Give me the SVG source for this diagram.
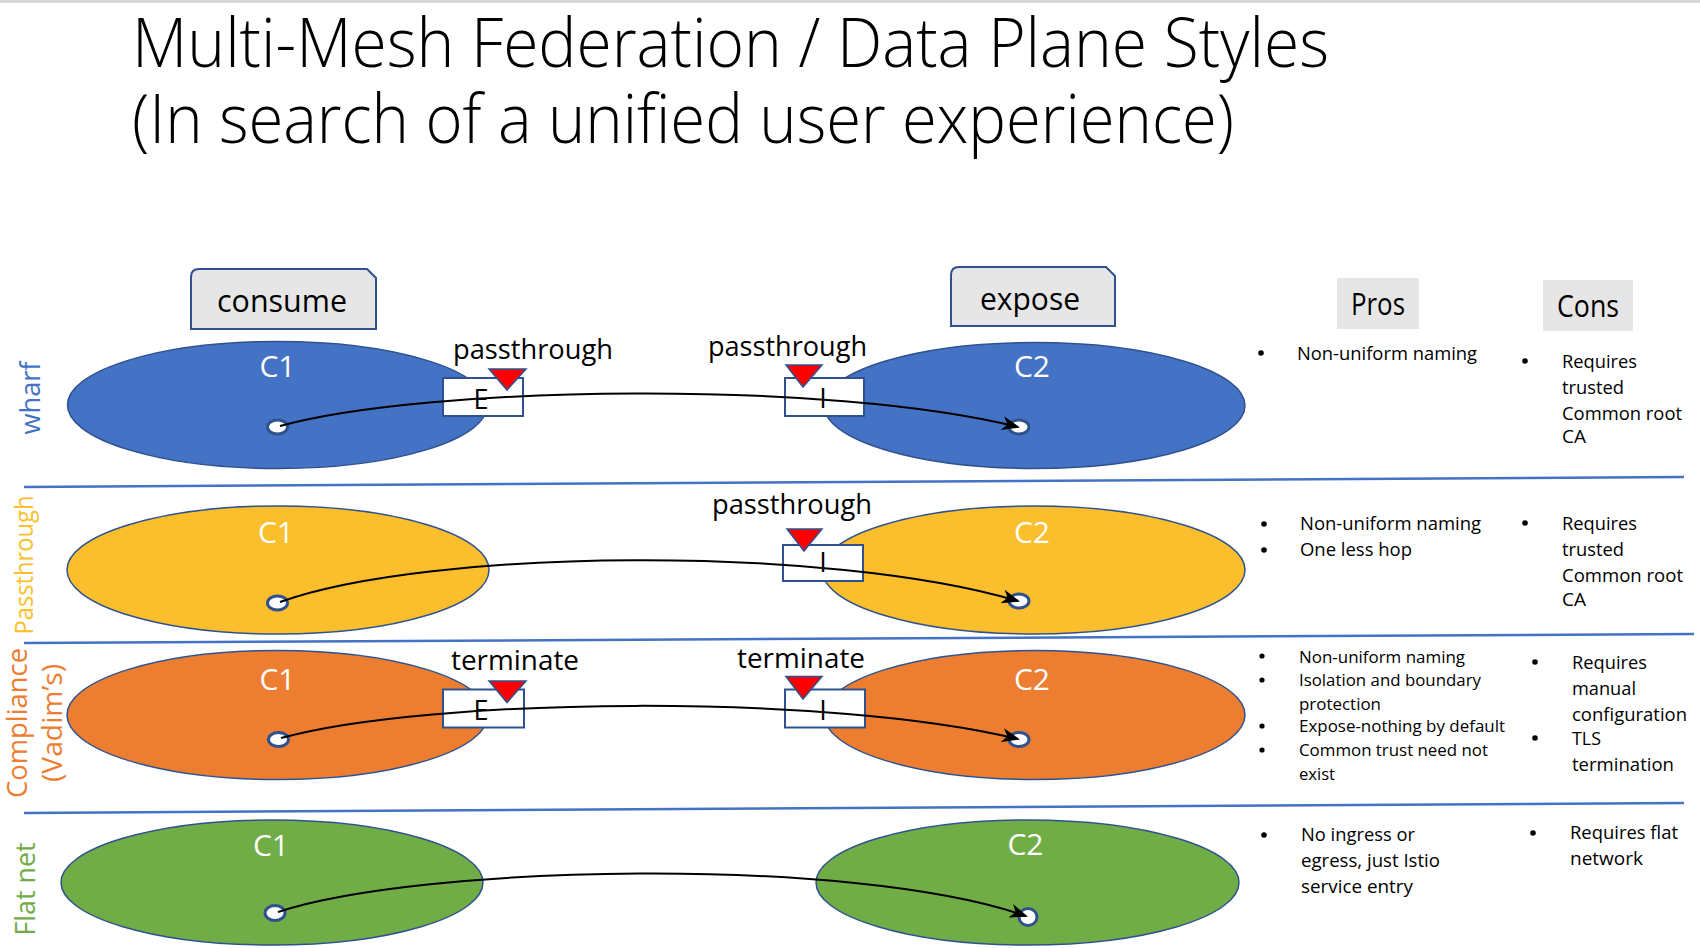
<svg xmlns="http://www.w3.org/2000/svg" width="1700" height="948" viewBox="0 0 1700 948">
<style>
text{font-family:"Open Sans","Liberation Sans",sans-serif;fill:#000}
.title{font-size:68px;font-weight:300}
.hdr{font-size:31px}
.lbl{font-size:28px}
.c{font-size:30px;fill:#fff;text-anchor:middle}
.gw{font-size:27px;text-anchor:middle}
.b1{font-size:18.5px}
.b3{font-size:17px}
.b4{font-size:18px}
.row{font-size:28px;text-anchor:middle}
.sep{stroke:#4472C4;stroke-width:2.5;fill:none}
.box{fill:#E7E6E6;stroke:#2F528F;stroke-width:2}
.gate{fill:#fff;stroke:#2F528F;stroke-width:2}
.tri{fill:#FF0000;stroke:#2F528F;stroke-width:1.5}
.cl{stroke:#2F528F;stroke-width:1.5}
.nd{fill:#fff;stroke:#2F528F;stroke-width:3}
.con{fill:none;stroke:#000;stroke-width:2;marker-end:url(#arr)}
.bul{fill:#000}
</style>
<defs>
<marker id="arr" viewBox="0 0 18 14" refX="16" refY="7" markerWidth="18" markerHeight="14" markerUnits="userSpaceOnUse" orient="auto">
<path d="M2,1.5 L16,7 L2,12.5 L6,7 Z" fill="#000" stroke="#000" stroke-width="1.5" stroke-linejoin="miter"/>
</marker>
</defs>
<rect x="0" y="0" width="1700" height="3" fill="#D9D9D9"/>
<g id="title">
<text class="title" x="132" y="67" textLength="1197" lengthAdjust="spacingAndGlyphs">Multi-Mesh Federation / Data Plane Styles</text>
<text class="title" x="132" y="143" textLength="1102" lengthAdjust="spacingAndGlyphs">(In search of a unified user experience)</text>
</g>
<g id="separators">
<line class="sep" x1="24" y1="487" x2="1684" y2="477"/>
<line class="sep" x1="24" y1="643" x2="1694" y2="634"/>
<line class="sep" x1="24" y1="813" x2="1684" y2="803"/>
</g>
<g id="consume">
<path class="box" d="M191,329 L191,277 Q191,269 199,269 L367,269 L376,278 L376,329 Z"/>
<text class="hdr" x="282" y="312" text-anchor="middle" textLength="130" lengthAdjust="spacingAndGlyphs">consume</text>
</g>
<g id="expose">
<path class="box" d="M951,326 L951,275 Q951,267 959,267 L1106,267 L1115,276 L1115,326 Z"/>
<text class="hdr" x="1030" y="310" text-anchor="middle" textLength="100" lengthAdjust="spacingAndGlyphs">expose</text>
</g>
<g id="pros-header">
<rect x="1337" y="278" width="82" height="51" fill="#E7E6E6"/>
<text class="hdr" x="1378" y="315" text-anchor="middle" textLength="54" lengthAdjust="spacingAndGlyphs">Pros</text>
</g>
<g id="cons-header">
<rect x="1543" y="280" width="90" height="51" fill="#E7E6E6"/>
<text class="hdr" x="1588" y="317" text-anchor="middle" textLength="62" lengthAdjust="spacingAndGlyphs">Cons</text>
</g>
<g id="row-labels">
<text class="row" style="fill:#4472C4" transform="translate(40,398) rotate(-90)" textLength="73" lengthAdjust="spacingAndGlyphs">wharf</text>
<text class="row" style="fill:#FBBF2D;font-size:26px" transform="translate(33,565) rotate(-90)" textLength="139" lengthAdjust="spacingAndGlyphs">Passthrough</text>
<text class="row" style="fill:#ED7D31" transform="translate(27,723) rotate(-90)" textLength="150" lengthAdjust="spacingAndGlyphs">Compliance</text>
<text class="row" style="fill:#ED7D31" transform="translate(62,723) rotate(-90)" textLength="118" lengthAdjust="spacingAndGlyphs">(Vadim’s)</text>
<text class="row" style="fill:#70AD47" transform="translate(35,889) rotate(-90)" textLength="93" lengthAdjust="spacingAndGlyphs">Flat net</text>
</g>
<!-- Row 1 wharf -->
<g id="wharf-c1">
<ellipse class="cl" cx="277.5" cy="405" rx="210" ry="63.5" fill="#4472C4"/>
<text class="c" x="277.5" y="377">C1</text>
<ellipse class="nd" cx="277.5" cy="427" rx="10" ry="7"/>
</g>
<g id="wharf-c2">
<ellipse class="cl" cx="1034.5" cy="405.5" rx="210.5" ry="63" fill="#4472C4"/>
<text class="c" x="1032" y="377">C2</text>
<ellipse class="nd" cx="1019" cy="427" rx="10" ry="7"/>
</g>
<g id="wharf-egress">
<rect class="gate" x="443" y="378" width="80" height="38"/>
<text class="gw" x="481" y="409">E</text>
<polygon class="tri" points="489,369 526,369 507,390"/>
<text class="lbl" x="453" y="359" textLength="160" lengthAdjust="spacingAndGlyphs">passthrough</text>
</g>
<g id="wharf-ingress">
<rect class="gate" x="785" y="378" width="79" height="38"/>
<text class="gw" x="823" y="408">I</text>
<polygon class="tri" points="786,365 822,365 803,387"/>
<text class="lbl" x="708" y="356" textLength="159" lengthAdjust="spacingAndGlyphs">passthrough</text>
</g>
<g id="wharf-text">
<circle class="bul" cx="1261" cy="353" r="2.8"/>
<text class="b1" x="1297" y="360" textLength="180" lengthAdjust="spacingAndGlyphs">Non-uniform naming</text>
<circle class="bul" cx="1525" cy="361" r="2.8"/>
<text class="b1" x="1562" y="367.5" textLength="75" lengthAdjust="spacingAndGlyphs">Requires</text>
<text class="b1" x="1562" y="393.5" textLength="62" lengthAdjust="spacingAndGlyphs">trusted</text>
<text class="b1" x="1562" y="419.5" textLength="120" lengthAdjust="spacingAndGlyphs">Common root</text>
<text class="b1" x="1562" y="443" textLength="24" lengthAdjust="spacingAndGlyphs">CA</text>
</g>
<!-- Row 2 passthrough -->
<g id="pass-c1">
<ellipse class="cl" cx="278" cy="570" rx="211" ry="64" fill="#FBBF2D"/>
<text class="c" x="276" y="543">C1</text>
<ellipse class="nd" cx="277.5" cy="603" rx="10" ry="7"/>
</g>
<g id="pass-c2">
<ellipse class="cl" cx="1033.5" cy="570" rx="211.5" ry="64" fill="#FBBF2D"/>
<text class="c" x="1032" y="543">C2</text>
<ellipse class="nd" cx="1019" cy="601" rx="10" ry="7"/>
</g>
<g id="pass-ingress">
<rect class="gate" x="783" y="545" width="80" height="36"/>
<text class="gw" x="823" y="572">I</text>
<polygon class="tri" points="787,529 822,529 804,551"/>
<text class="lbl" x="712" y="514" textLength="160" lengthAdjust="spacingAndGlyphs">passthrough</text>
</g>
<g id="pass-text">
<circle class="bul" cx="1264" cy="524" r="2.8"/>
<text class="b1" x="1300" y="530" textLength="181" lengthAdjust="spacingAndGlyphs">Non-uniform naming</text>
<circle class="bul" cx="1264" cy="550" r="2.8"/>
<text class="b1" x="1300" y="556" textLength="112" lengthAdjust="spacingAndGlyphs">One less hop</text>
<circle class="bul" cx="1525" cy="523" r="2.8"/>
<text class="b1" x="1562" y="530" textLength="75" lengthAdjust="spacingAndGlyphs">Requires</text>
<text class="b1" x="1562" y="556" textLength="62" lengthAdjust="spacingAndGlyphs">trusted</text>
<text class="b1" x="1562" y="582" textLength="121" lengthAdjust="spacingAndGlyphs">Common root</text>
<text class="b1" x="1562" y="606" textLength="24" lengthAdjust="spacingAndGlyphs">CA</text>
</g>
<!-- Row 3 compliance -->
<g id="comp-c1">
<ellipse class="cl" cx="277.5" cy="715" rx="210.5" ry="64.5" fill="#ED7D31"/>
<text class="c" x="277.5" y="690">C1</text>
<ellipse class="nd" cx="278.5" cy="739.5" rx="10" ry="7"/>
</g>
<g id="comp-c2">
<ellipse class="cl" cx="1034.5" cy="715" rx="210.5" ry="64.5" fill="#ED7D31"/>
<text class="c" x="1032" y="690">C2</text>
<ellipse class="nd" cx="1019" cy="739.5" rx="10" ry="7"/>
</g>
<g id="comp-egress">
<rect class="gate" x="443" y="689.5" width="81" height="38"/>
<text class="gw" x="481" y="720">E</text>
<polygon class="tri" points="489,681 526,681 507,702.5"/>
<text class="lbl" x="451" y="670" textLength="128" lengthAdjust="spacingAndGlyphs">terminate</text>
</g>
<g id="comp-ingress">
<rect class="gate" x="785" y="689.5" width="80" height="38"/>
<text class="gw" x="823" y="720">I</text>
<polygon class="tri" points="786,676.5 822,676.5 803,699"/>
<text class="lbl" x="737" y="668" textLength="128" lengthAdjust="spacingAndGlyphs">terminate</text>
</g>
<g id="comp-text">
<circle class="bul" cx="1262" cy="656" r="2.6"/>
<text class="b3" x="1299" y="662.5" textLength="166" lengthAdjust="spacingAndGlyphs">Non-uniform naming</text>
<circle class="bul" cx="1262" cy="680" r="2.6"/>
<text class="b3" x="1299" y="686" textLength="182" lengthAdjust="spacingAndGlyphs">Isolation and boundary</text>
<text class="b3" x="1299" y="710" textLength="82" lengthAdjust="spacingAndGlyphs">protection</text>
<circle class="bul" cx="1262" cy="726" r="2.6"/>
<text class="b3" x="1299" y="732" textLength="206" lengthAdjust="spacingAndGlyphs">Expose-nothing by default</text>
<circle class="bul" cx="1262" cy="750" r="2.6"/>
<text class="b3" x="1299" y="756" textLength="189" lengthAdjust="spacingAndGlyphs">Common trust need not</text>
<text class="b3" x="1299" y="779.5" textLength="36" lengthAdjust="spacingAndGlyphs">exist</text>
<circle class="bul" cx="1535" cy="662" r="2.8"/>
<text class="b1" x="1572" y="669" textLength="75" lengthAdjust="spacingAndGlyphs">Requires</text>
<text class="b1" x="1572" y="695" textLength="64" lengthAdjust="spacingAndGlyphs">manual</text>
<text class="b1" x="1572" y="721" textLength="115" lengthAdjust="spacingAndGlyphs">configuration</text>
<circle class="bul" cx="1535" cy="738" r="2.8"/>
<text class="b1" x="1572" y="745" textLength="29" lengthAdjust="spacingAndGlyphs">TLS</text>
<text class="b1" x="1572" y="771" textLength="102" lengthAdjust="spacingAndGlyphs">termination</text>
</g>
<!-- Row 4 flat net -->
<g id="flat-c1">
<ellipse class="cl" cx="272" cy="882.5" rx="211" ry="62.5" fill="#70AD47"/>
<text class="c" x="271" y="855.5">C1</text>
<ellipse class="nd" cx="275" cy="913" rx="10" ry="7.5"/>
</g>
<g id="flat-c2">
<ellipse class="cl" cx="1027.5" cy="882.5" rx="211.5" ry="62.5" fill="#70AD47"/>
<text class="c" x="1025.5" y="855">C2</text>
<ellipse class="nd" cx="1028" cy="917" rx="9" ry="8.5"/>
</g>
<g id="flat-text">
<circle class="bul" cx="1264" cy="835" r="2.8"/>
<text class="b4" x="1301" y="841" textLength="114" lengthAdjust="spacingAndGlyphs">No ingress or</text>
<text class="b4" x="1301" y="867" textLength="139" lengthAdjust="spacingAndGlyphs">egress, just Istio</text>
<text class="b4" x="1301" y="893" textLength="112" lengthAdjust="spacingAndGlyphs">service entry</text>
<circle class="bul" cx="1533" cy="833" r="2.8"/>
<text class="b4" x="1570" y="839" textLength="108" lengthAdjust="spacingAndGlyphs">Requires flat</text>
<text class="b4" x="1570" y="865" textLength="73" lengthAdjust="spacingAndGlyphs">network</text>
</g>
<g id="connectors">
<path class="con" d="M280,426 C430,385 830,380 1018,427"/>
<path class="con" d="M280,602 C430,548 830,545 1018,601"/>
<path class="con" d="M281,738 C430,697 830,693 1018,739"/>
<path class="con" d="M278,912 C420,865 850,855 1026,916"/>
</g>
</svg>
